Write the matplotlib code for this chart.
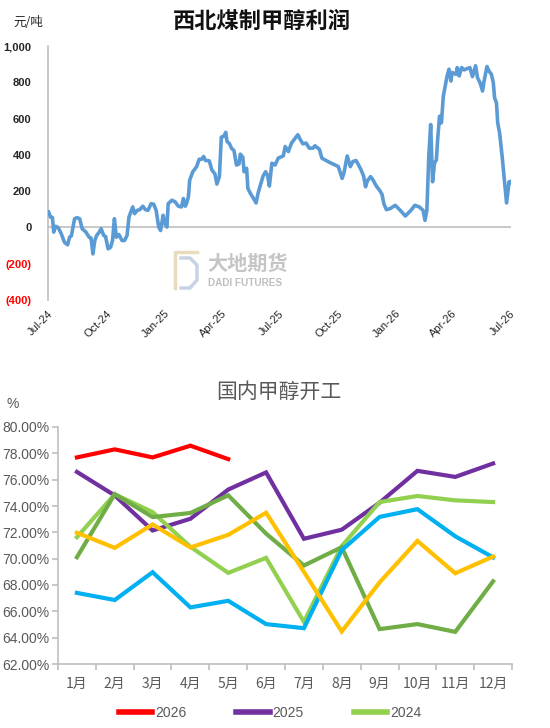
import matplotlib
matplotlib.use('Agg')
import matplotlib.pyplot as plt
import matplotlib.dates as mdates
import numpy as np
import pandas as pd
from matplotlib.lines import Line2D

plt.rcParams['font.family'] = ['Liberation Sans', 'Noto Sans CJK SC', 'DejaVu Sans']

# ---------------- data: top chart (元/吨) ----------------
dates = [
"2024-07-02","2024-07-05","2024-07-08","2024-07-10","2024-07-13","2024-07-17","2024-07-22","2024-07-27",
"2024-08-01","2024-08-04","2024-08-07","2024-08-12","2024-08-16","2024-08-20","2024-08-24","2024-08-30",
"2024-09-04","2024-09-07","2024-09-10","2024-09-13","2024-09-16","2024-09-20","2024-09-23","2024-09-27","2024-09-30",
"2024-10-04","2024-10-08","2024-10-11","2024-10-14","2024-10-17","2024-10-21","2024-10-26","2024-10-30",
"2024-11-03","2024-11-06","2024-11-10","2024-11-12","2024-11-15","2024-11-19","2024-11-23","2024-11-28",
"2024-12-02","2024-12-06","2024-12-11","2024-12-15","2024-12-19","2024-12-23","2024-12-26","2024-12-30",
"2025-01-02","2025-01-05","2025-01-07","2025-01-13","2025-01-18","2025-01-23","2025-01-28","2025-01-31",
"2025-02-03","2025-02-05","2025-02-08","2025-02-10","2025-02-15","2025-02-21","2025-02-25",
"2025-03-01","2025-03-04","2025-03-07","2025-03-13","2025-03-17","2025-03-22","2025-03-25","2025-03-29",
"2025-04-01","2025-04-05","2025-04-08","2025-04-10","2025-04-14","2025-04-17","2025-04-21","2025-04-25","2025-04-29",
"2025-05-01","2025-05-05","2025-05-07","2025-05-11","2025-05-13","2025-05-17","2025-05-21","2025-05-26","2025-05-29",
"2025-06-01","2025-06-06","2025-06-10","2025-06-13","2025-06-16","2025-06-20","2025-06-25","2025-06-30",
"2025-07-08","2025-07-11","2025-07-16","2025-07-21","2025-07-27","2025-07-31",
"2025-08-04","2025-08-08","2025-08-13","2025-08-18","2025-08-24","2025-08-27",
"2025-09-03","2025-09-07","2025-09-12","2025-09-20","2025-09-28",
"2025-10-03","2025-10-09","2025-10-12","2025-10-17","2025-10-22","2025-10-26","2025-10-31",
"2025-11-04","2025-11-08","2025-11-12","2025-11-15","2025-11-18","2025-11-23","2025-11-27",
"2025-12-02","2025-12-07","2025-12-11","2025-12-14","2025-12-18","2025-12-24",
"2026-01-01","2026-01-09","2026-01-17","2026-01-25",
"2026-02-01","2026-02-08","2026-02-14","2026-02-17","2026-02-20","2026-02-23","2026-02-26",
"2026-03-01","2026-03-04","2026-03-07","2026-03-09","2026-03-12","2026-03-15","2026-03-18","2026-03-22","2026-03-24","2026-03-27","2026-03-30",
"2026-04-01","2026-04-07","2026-04-09","2026-04-12","2026-04-16","2026-04-20","2026-04-25","2026-04-29",
"2026-05-03","2026-05-08","2026-05-11","2026-05-15","2026-05-19","2026-05-21","2026-05-26","2026-05-29",
"2026-06-02","2026-06-05","2026-06-07","2026-06-10","2026-06-12","2026-06-15","2026-06-19","2026-06-22","2026-06-26","2026-06-30",
"2026-07-01","2026-07-03"]

profit = [
85, 57, 55, -26, 6, 0, -35, -82,
-96, -54, -46, 48, 54, 48, -7, -26,
-54, -58, -146, -72, -44, -26, -7, -44, -50,
-118, -109, -72, 48, -54, -39, -72, -72,
-44, 57, 94, 113, 76, 94, 98, 117,
98, 94, 131, 128, 94, 2, -17, 67,
20, 2, 131, 150, 141, 117, 113, 159,
117, 131, 169, 261, 307, 335, 376,
376, 391, 369, 367, 317, 294, 239, 280,
498, 502, 524, 474, 461, 437, 424, 344, 350,
404, 387, 307, 326, 215, 187, 165, 135, 187,
224, 283, 307, 289, 228, 354, 344, 382,
394, 446, 418, 465, 493, 511,
483, 461, 465, 437, 437, 450,
431, 382, 372, 357, 344,
335, 270, 302, 394, 335, 363, 369,
344, 317, 283, 224, 257, 280, 261,
228, 206, 183, 131, 98, 104,
122, 94, 63, 91,
122, 113, 94, 39, 94, 391, 567,
252, 354, 372, 483, 613, 576, 724, 798, 835, 872, 807,
854, 844, 881, 835, 881, 868, 876, 881,
831, 891, 826, 798, 752, 798, 887, 863,
844, 798, 715, 687, 576, 520, 391, 280, 135, 252,
243, 252]

profit_ticks = [-400, -200, 0, 200, 400, 600, 800, 1000]
profit_labels = ["(400)", "(200)", "0", "200", "400", "600", "800", "1,000"]

# ---------------- data: bottom chart (%) ----------------
months = ["1月", "2月", "3月", "4月", "5月", "6月", "7月", "8月", "9月", "10月", "11月", "12月"]
rate_2026 = [77.69, 78.30, 77.69, 78.58, 77.56]
rate_2025 = [76.59, 74.80, 72.14, 73.03, 75.25, 76.55, 71.51, 72.20, 74.25, 76.67, 76.21, 77.23]
rate_2024 = [71.63, 74.89, 73.54, 70.90, 68.92, 70.06, 65.20, 70.95, 74.30, 74.76, 74.43, 74.30]
rate_2023 = [70.11, 74.90, 73.16, 73.47, 74.81, 71.90, 69.48, 70.87, 64.65, 65.03, 64.44, 68.28]
rate_2022 = [67.40, 66.86, 68.97, 66.30, 66.80, 65.03, 64.72, 70.65, 73.17, 73.76, 71.70, 70.10]
rate_2021 = [71.97, 70.82, 72.60, 70.85, 71.81, 73.49, 69.00, 64.47, 68.20, 71.35, 68.89, 70.16]
rate_ticks = [62, 64, 66, 68, 70, 72, 74, 76, 78, 80]

W, H = 550, 728
fig = plt.figure(figsize=(W / 100, H / 100), dpi=100)

def fx(px):
    return px / W

def fy(py):
    return 1 - py / H

# ================= top chart =================
ax1 = fig.add_axes([fx(48), fy(300), fx(511) - fx(48), fy(46) - fy(300)])
d = pd.to_datetime(dates)
ax1.plot(d, profit, color='#5B9BD5', lw=2.6, solid_joinstyle='round', zorder=3)
ax1.set_ylim(-400, 1000)
ax1.set_xlim(pd.Timestamp('2024-07-01'), pd.Timestamp('2026-07-03'))
ax1.axhline(0, color='#BFBFBF', lw=1.2, zorder=1)
for s in ['top', 'right', 'bottom']:
    ax1.spines[s].set_visible(False)
ax1.spines['left'].set_color('#BFBFBF')
ax1.spines['left'].set_linewidth(1.2)
ax1.set_yticks(profit_ticks)
ax1.set_yticklabels(profit_labels, fontweight='bold')
for t, v in zip(ax1.get_yticklabels(), profit_ticks):
    t.set_color('#FF0000' if v < 0 else '#262626')
ax1.tick_params(axis='y', length=0, pad=12, labelsize=8)
ax1.xaxis.set_major_locator(mdates.MonthLocator(bymonth=[1, 4, 7, 10]))
ax1.xaxis.set_major_formatter(mdates.DateFormatter('%b-%y'))
ax1.tick_params(axis='x', length=0, pad=6, labelsize=8, labelcolor='#262626')
for lbl in ax1.get_xticklabels():
    lbl.set_rotation(45)
    lbl.set_ha('right')
    lbl.set_rotation_mode('anchor')

fig.text(fx(262), fy(21), '西北煤制甲醇利润', ha='center', va='center', fontsize=16,
         fontweight='bold', family=['Noto Sans CJK SC', 'DejaVu Sans'], color='#111111')
fig.text(fx(13), fy(22), '元/吨', ha='left', va='center', fontsize=9,
         family=['Noto Sans CJK SC', 'DejaVu Sans'], color='#262626')

# watermark
fig.add_artist(Line2D([fx(197), fx(175), fx(175)], [fy(252), fy(252), fy(288)],
                      transform=fig.transFigure, color='#E3D3AE', lw=2.5, alpha=0.8))
fig.add_artist(Line2D([fx(181), fx(190), fx(197), fx(197), fx(190), fx(181)],
                      [fy(258), fy(258), fy(265), fy(280), fy(288), fy(288)],
                      transform=fig.transFigure, color='#B9C8DA', lw=2.5, alpha=0.8))
fig.text(fx(207), fy(263), '大地期货', ha='left', va='center', fontsize=14.5,
         fontweight='bold', family=['Noto Sans CJK SC', 'DejaVu Sans'], color='#8C8C8C', alpha=0.5)
fig.text(fx(208), fy(283), 'DADI FUTURES', ha='left', va='center', fontsize=7.2,
         fontweight='bold', color='#8C8C8C', alpha=0.55)

# ================= bottom chart =================
ax2 = fig.add_axes([fx(58), fy(664), fx(512) - fx(58), fy(427) - fy(664)])
x = np.arange(len(months))
series = [
    (rate_2026, '#FF0000', '2026', 7),
    (rate_2025, '#7030A0', '2025', 3),
    (rate_2024, '#92D050', '2024', 4),
    (rate_2023, '#70AD47', None, 5),
    (rate_2022, '#00B0F0', None, 5.5),
    (rate_2021, '#FFC000', None, 6),
]
handles = []
for vals, col, lab, z in series:
    ln, = ax2.plot(x[:len(vals)], vals, color=col, lw=3, zorder=z,
                   solid_joinstyle='miter')
    if lab:
        handles.append((ln, lab))
ax2.set_xlim(-0.5, 11.5)
ax2.set_ylim(62, 80)
ax2.set_yticks(rate_ticks)
ax2.set_yticklabels([f"{v:.2f}%" for v in rate_ticks])
ax2.set_xticks(x)
ax2.set_xticklabels(months, family=['Noto Sans CJK SC', 'DejaVu Sans'])
ax2.set_xticks(np.arange(-0.5, 12, 1), minor=True)
for s in ['top', 'right']:
    ax2.spines[s].set_visible(False)
for s in ['left', 'bottom']:
    ax2.spines[s].set_color('#BFBFBF')
    ax2.spines[s].set_linewidth(1.2)
ax2.tick_params(axis='y', length=4, width=1.2, color='#BFBFBF', labelsize=10,
                labelcolor='#595959', pad=2)
ax2.tick_params(axis='x', which='major', length=0, pad=9, labelsize=10, labelcolor='#595959')
ax2.tick_params(axis='x', which='minor', length=4, width=1.2, color='#BFBFBF')

fig.text(fx(279), fy(392), '国内甲醇开工', ha='center', va='center', fontsize=15,
         family=['Noto Sans CJK SC', 'DejaVu Sans'], color='#595959')
fig.text(fx(6), fy(404), '%', ha='left', va='center', fontsize=10, color='#595959')

leg = fig.legend([h for h, _ in handles], [l for _, l in handles], loc='center',
                 bbox_to_anchor=(fx(270), fy(713)), ncol=3, frameon=False,
                 handlelength=2.4, handletextpad=0.2, columnspacing=3.6,
                 fontsize=10, labelcolor='#595959')
for lh in leg.get_lines():
    lh.set_linewidth(4)

fig.savefig('out.png', dpi=100)
